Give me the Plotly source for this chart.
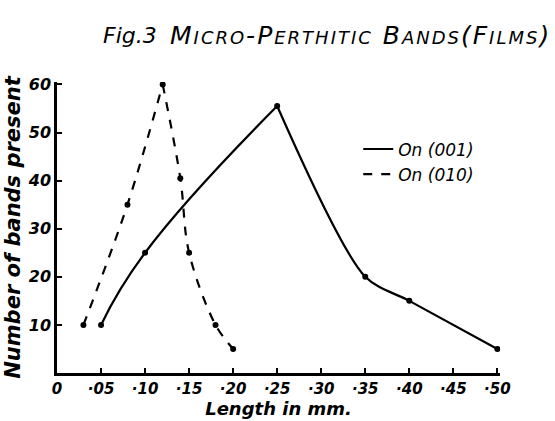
import plotly.graph_objects as go

# Data
x_001 = [0.05, 0.10, 0.25, 0.35, 0.40, 0.50]
y_001 = [10, 25, 55.5, 20, 15, 5]
x_010 = [0.03, 0.08, 0.12, 0.14, 0.15, 0.18, 0.20]
y_010 = [10, 35, 60, 40.5, 25, 10, 5]
x_tickvals = [0, 0.05, 0.10, 0.15, 0.20, 0.25, 0.30, 0.35, 0.40, 0.45, 0.50]
x_ticktext = ["0", "·05", "·10", "·15", "·20", "·25", "·30", "·35", "·40", "·45", "·50"]
y_tickvals = [10, 20, 30, 40, 50, 60]
y_ticktext = ["10", "20", "30", "40", "50", "60"]

FONT = "DejaVu Sans"
fig = go.Figure()

def add_series(xs, ys, dash, name, smooth_up, smooth_down):
    pk = ys.index(max(ys))
    for i, (a, b, s) in enumerate([(0, pk + 1, smooth_up), (pk, len(xs), smooth_down)]):
        fig.add_trace(go.Scatter(
            x=xs[a:b], y=ys[a:b], mode="lines",
            line=dict(color="black", width=2.2, dash=dash, shape="spline", smoothing=s),
            name=name, showlegend=(i == 0), legendgroup=name,
            hoverinfo="skip"))
    fig.add_trace(go.Scatter(x=xs, y=ys, mode="markers",
                             marker=dict(color="black", size=6),
                             showlegend=False, hoverinfo="skip"))

add_series(x_001, y_001, "solid", "On (001)", 1.3, 0.8)
add_series(x_010, y_010, "dash", "On (010)", 1.0, 1.0)

fig.update_layout(
    width=555, height=421,
    margin=dict(l=57, r=55, t=82, b=48, autoexpand=False),
    paper_bgcolor="white", plot_bgcolor="white",
    font=dict(family=FONT, color="black", size=15, style="italic", weight="bold"),
    showlegend=True,
    legend=dict(x=0.68, y=0.83, xanchor="left", yanchor="top",
                bgcolor="rgba(0,0,0,0)", tracegroupgap=0, itemwidth=30,
                font=dict(size=17, style="italic", weight="normal")),
    xaxis=dict(range=[0, 0.503], showgrid=False, zeroline=False, automargin=False,
               showline=True, linecolor="black", linewidth=2.5,
               ticks="inside", ticklen=5, tickwidth=1.5, tickcolor="black",
               tickvals=x_tickvals, ticktext=x_ticktext,
               tickfont=dict(size=15, style="italic", weight="bold"),
               title=dict(text="Length in mm.", standoff=4,
                          font=dict(size=18, style="italic", weight="bold"))),
    yaxis=dict(range=[0, 60.5], showgrid=False, zeroline=False, automargin=False,
               showline=True, linecolor="black", linewidth=2.5,
               ticks="inside", ticklen=5, tickwidth=1.5, tickcolor="black",
               tickvals=y_tickvals, ticktext=y_ticktext,
               tickfont=dict(size=16, style="italic", weight="bold"),
               title=dict(text="Number of bands present", standoff=2,
                          font=dict(size=21, style="italic", weight="bold"))),
)

fig.add_annotation(text="Fig.3",
                   xref="paper", yref="paper", x=0.1, y=1.0, yshift=47,
                   xanchor="left", yanchor="middle", showarrow=False,
                   font=dict(size=22, style="italic", weight="normal"))
fig.add_annotation(text="<span style='letter-spacing:2px'>Micro-Perthitic Bands(Films)</span>",
                   xref="paper", yref="paper", x=1.12, y=1.0, yshift=47,
                   xanchor="right", yanchor="middle", showarrow=False,
                   font=dict(size=25, style="italic", weight="normal", variant="small-caps"))

fig.write_html("out.html")
